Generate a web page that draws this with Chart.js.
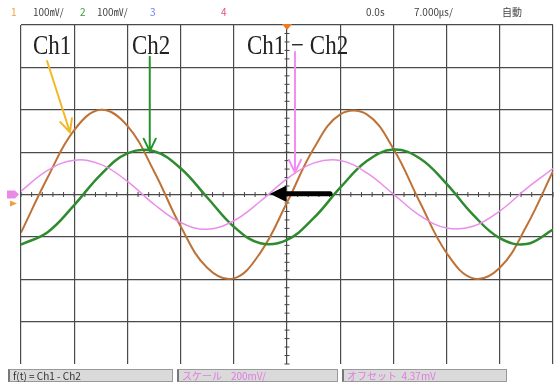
<!DOCTYPE html>
<html>
<head>
<meta charset="utf-8">
<script src="https://cdn.jsdelivr.net/npm/chart.js@4"></script>
<style>
  body { margin: 0; background: #fff; }
  #wrap { position: relative; width: 554px; height: 382px; overflow: hidden; font-family: 'Noto Sans CJK JP', sans-serif; }
  #scope { position: absolute; left: 0; top: 0; }
  .hd { position: absolute; top: 5px; font-size: 10px; line-height: 14px; color: #444; white-space: nowrap; }
  .lbl { position: absolute; top: 31px; font-family: 'Liberation Serif', serif; font-size: 23px; line-height: 23px; color: #222; transform: scaleY(1.2); transform-origin: left top; white-space: nowrap; }
  .box { position: absolute; top: 369px; height: 12px; background: #dadada; border: 1px solid #999; border-left: 2px solid #777; font-size: 10px; line-height: 12px; white-space: nowrap; padding-left: 3px; box-sizing: border-box; height: 13px; }
  .pk { color: #e27ae2; }
</style>
</head>
<body>
<div id="wrap">
  <canvas id="scope" width="554" height="382"></canvas>

  <!-- status line -->
  <div class="hd" style="left:11px;color:#f0a040">1</div>
  <div class="hd" style="left:33px">100㎷/</div>
  <div class="hd" style="left:80px;color:#35a035">2</div>
  <div class="hd" style="left:97px">100㎷/</div>
  <div class="hd" style="left:150px;color:#6f7ff0">3</div>
  <div class="hd" style="left:221px;color:#e8507a">4</div>
  <div class="hd" style="left:366px">0.0s</div>
  <div class="hd" style="left:414px">7.000㎲/</div>
  <div class="hd" style="left:502px">自動</div>

  <!-- hand written labels -->
  <div class="lbl" style="left:33px">Ch1</div>
  <div class="lbl" style="left:132px">Ch2</div>
  <div class="lbl" style="left:247px">Ch1 − Ch2</div>

  <!-- math function bar -->
  <div class="box" style="left:8px;width:165px;color:#333">f(t) = Ch1 - Ch2</div>
  <div class="box pk" style="left:177px;width:161px">スケール&nbsp;&nbsp;&nbsp;&nbsp;200mV/</div>
  <div class="box pk" style="left:342px;width:165px">オフセット&nbsp;&nbsp;4.37mV</div>
</div>

<script>
// time in divisions (7.000 us/div), values in divisions
const timeDiv = [-5, -4.5, -4, -3.5, -3, -2.5, -2, -1.5, -1, -0.5, 0, 0.5, 1, 1.5, 2, 2.5, 3, 3.5, 4, 4.5, 5];
const ch1 = [-0.90, 0.40, 1.52, 2.00, 1.62, 0.55, -0.75, -1.73, -1.98, -1.37, -0.19, 1.08, 1.89, 1.89, 1.08, -0.19, -1.38, -1.98, -1.73, -0.75, 0.55];
const ch2 = [-1.18, -0.89, -0.25, 0.47, 0.97, 1.02, 0.62, -0.07, -0.76, -1.15, -1.07, -0.56, 0.16, 0.79, 1.06, 0.85, 0.25, -0.48, -1.03, -1.17, -0.83];
const mathCh = [0.08, 0.57, 0.81, 0.71, 0.31, -0.23, -0.66, -0.82, -0.62, -0.16, 0.37, 0.74, 0.80, 0.51, 0.01, -0.50, -0.79, -0.75, -0.39, 0.14, 0.61];

// annotation arrows, in divisions
const arrows = [
  { from: [-4.51, 3.15], to: [-4.08, 1.47], color: '#f4b826', width: 2 },
  { from: [-2.58, 3.25], to: [-2.58, 1.02], color: '#22962c', width: 2 },
  { from: [0.15, 3.36], to: [0.15, 0.52], color: '#f28cf2', width: 2 },
  { from: [0.81, 0.02], to: [-0.32, 0.02], color: '#000', width: 5, solid: true }
];

const toPoints = (vals) => timeDiv.map((t, i) => ({ x: t, y: vals[i] }));

const drawArrow = (ctx, x1, y1, x2, y2, a) => {
  const ang = Math.atan2(y2 - y1, x2 - x1);
  ctx.save();
  ctx.strokeStyle = a.color;
  ctx.fillStyle = a.color;
  ctx.lineWidth = a.width;
  ctx.lineCap = 'round';
  if (a.solid) {
    const hl = 16, hw = 8;
    const bx = x2 - hl * Math.cos(ang), by = y2 - hl * Math.sin(ang);
    ctx.beginPath();
    ctx.moveTo(x1, y1);
    ctx.lineTo(bx, by);
    ctx.stroke();
    ctx.beginPath();
    ctx.moveTo(x2, y2);
    ctx.lineTo(bx + hw * Math.sin(ang), by - hw * Math.cos(ang));
    ctx.lineTo(bx - hw * Math.sin(ang), by + hw * Math.cos(ang));
    ctx.closePath();
    ctx.fill();
  } else {
    const hl = 14, spread = 0.45;
    ctx.beginPath();
    ctx.moveTo(x1, y1);
    ctx.lineTo(x2, y2);
    ctx.moveTo(x2 - hl * Math.cos(ang - spread), y2 - hl * Math.sin(ang - spread));
    ctx.lineTo(x2, y2);
    ctx.lineTo(x2 - hl * Math.cos(ang + spread), y2 - hl * Math.sin(ang + spread));
    ctx.stroke();
  }
  ctx.restore();
};

// minor ticks on the centre axes + markers + arrows
const scopeDecor = {
  id: 'scopeDecor',
  beforeDatasetsDraw(chart) {
    const { ctx, scales: { x, y } } = chart;
    const x0 = x.getPixelForValue(0), y0 = y.getPixelForValue(0);
    ctx.save();
    ctx.strokeStyle = '#444';
    ctx.lineWidth = 1;
    ctx.beginPath();
    for (let i = -25; i <= 25; i++) {
      const px = x.getPixelForValue(i / 5);
      ctx.moveTo(px, y0 - 2.5);
      ctx.lineTo(px, y0 + 2.5);
    }
    for (let i = -20; i <= 20; i++) {
      const py = y.getPixelForValue(i / 5);
      ctx.moveTo(x0 - 2.5, py);
      ctx.lineTo(x0 + 2.5, py);
    }
    ctx.stroke();
    ctx.restore();
  },
  afterDatasetsDraw(chart) {
    const { ctx, scales: { x, y }, chartArea } = chart;
    arrows.forEach(a => drawArrow(ctx,
      x.getPixelForValue(a.from[0]), y.getPixelForValue(a.from[1]),
      x.getPixelForValue(a.to[0]), y.getPixelForValue(a.to[1]), a));

    const x0 = x.getPixelForValue(0), y0 = y.getPixelForValue(0);
    ctx.save();
    // trigger position
    ctx.fillStyle = '#f07a20';
    ctx.beginPath();
    ctx.moveTo(x0 - 5, chartArea.top - 1);
    ctx.lineTo(x0 + 5, chartArea.top - 1);
    ctx.lineTo(x0, chartArea.top + 5);
    ctx.fill();
    // ground markers on the left
    ctx.fillStyle = '#e98ae9';
    ctx.beginPath();
    ctx.moveTo(7, y0 - 4);
    ctx.lineTo(15, y0 - 4);
    ctx.lineTo(19, y0);
    ctx.lineTo(15, y0 + 4);
    ctx.lineTo(7, y0 + 4);
    ctx.fill();
    ctx.fillStyle = '#f0a040';
    ctx.beginPath();
    ctx.moveTo(10, y0 + 6);
    ctx.lineTo(17, y0 + 9);
    ctx.lineTo(10, y0 + 12);
    ctx.fill();
    ctx.restore();
  }
};

new Chart(document.getElementById('scope'), {
  type: 'line',
  data: {
    datasets: [
      { label: 'Ch1 - Ch2', data: toPoints(mathCh), borderColor: '#ea8eea', borderWidth: 1.5 },
      { label: 'Ch2', data: toPoints(ch2), borderColor: '#2e8b2e', borderWidth: 2.5 },
      { label: 'Ch1', data: toPoints(ch1), borderColor: '#bd7238', borderWidth: 2 }
    ]
  },
  options: {
    responsive: false,
    animation: false,
    layout: { padding: { left: 21, top: 25, right: 1, bottom: 18 } },
    elements: { point: { radius: 0 }, line: { tension: 0.4, fill: false } },
    plugins: { legend: { display: false }, tooltip: { enabled: false } },
    scales: {
      x: {
        type: 'linear', min: -5, max: 5,
        ticks: { display: false, stepSize: 1 },
        grid: { color: '#4a4a4a', lineWidth: 1.2, drawTicks: false },
        border: { display: false }
      },
      y: {
        type: 'linear', min: -4, max: 4,
        ticks: { display: false, stepSize: 1 },
        grid: {
          color: (c) => c.tick && c.tick.value === -4 ? 'rgba(0,0,0,0)' : '#4a4a4a',
          lineWidth: 1.2, drawTicks: false
        },
        border: { display: false }
      }
    }
  },
  plugins: [scopeDecor]
});
</script>
</body>
</html>
